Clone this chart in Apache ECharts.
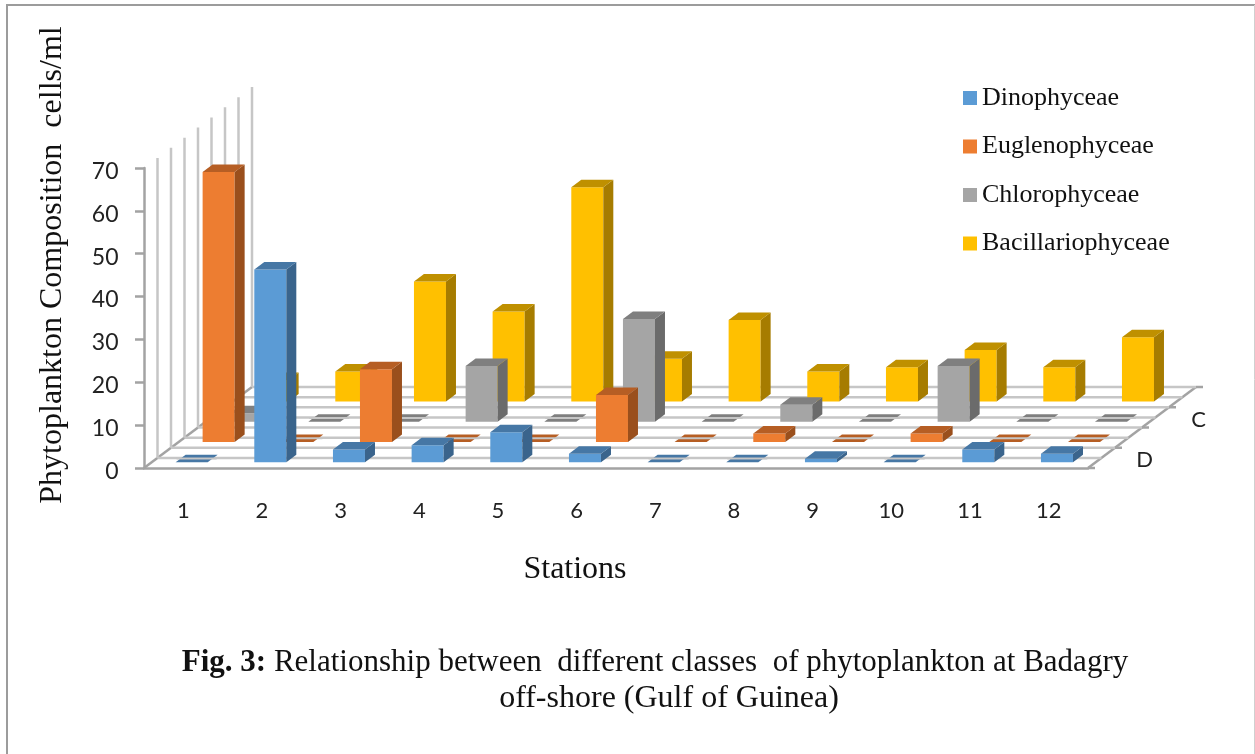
<!DOCTYPE html>
<html>
<head>
<meta charset="utf-8">
<style>html,body{margin:0;padding:0;background:#fff}#c{width:1255px;height:754px}</style>
<script src="https://cdn.jsdelivr.net/npm/echarts@6/dist/echarts.min.js"></script>
</head>
<body>
<div id="c"></div>
<script>
const stations = ['1','2','3','4','5','6','7','8','9','10','11','12'];
const dinophyceae = [0,45,3,4,7,2,0,0,0.8,0,3,2];
const euglenophyceae = [63,0,17,0,0,11,0,2,0,2,0,0];
const chlorophyceae = [2,0,0,13,0,24,0,4,0,13,0,0];
const bacillariophyceae = [5,7,28,21,50,10,19,7,8,12,8,15];
const depthLabels = ['D','','C',''];
const floorLines = [0,1,2,3,4,5,6,7,8];
const valueTop = 70;

const ROW_DX = 27, ROW_DY = -20.25;
const INSET_DX = 8.3, INSET_DY = -5.7;
const BAR_DX = 10, BAR_DY = -7.5;
const GRID = '#c6c6c6', AXIS = '#a3a3a3';

function bar3d(row, front, side, top) {
  return function (params, api) {
    const i = api.value(0), v = api.value(1);
    const base = api.coord([i, 0]);
    const tip = api.coord([i, v]);
    const band = api.size([1, 0])[0];
    const w = band * 0.407;
    const x0 = base[0] - w / 2 + INSET_DX + ROW_DX * row;
    const y0 = base[1] + INSET_DY + ROW_DY * row;
    const h = base[1] - tip[1];
    const yt = y0 - h;
    const x1 = x0 + w;
    const children = [];
    if (h > 0) {
      children.push({type:'rect', shape:{x:x0,y:yt,width:w,height:h}, style:{fill:front}});
      children.push({type:'polygon', shape:{points:[[x1,y0],[x1+BAR_DX,y0+BAR_DY],[x1+BAR_DX,yt+BAR_DY],[x1,yt]]}, style:{fill:side}});
    }
    children.push({type:'polygon', shape:{points:[[x0,yt],[x1,yt],[x1+BAR_DX,yt+BAR_DY],[x0+BAR_DX,yt+BAR_DY]]}, style:{fill:top}});
    if (h === 0) {
      // the floor line shows through a bar of zero height
      const ym = y0 + BAR_DY / 2;
      children.push({type:'line', shape:{x1:x0+1,y1:ym,x2:x1+BAR_DX-1,y2:ym}, style:{stroke:GRID,lineWidth:2}});
    }
    return {type:'group', children};
  };
}

function barSeries(name, values, row, front, side, top) {
  return {
    name, type:'custom', coordinateSystem:'cartesian2d', z: 5 + (3 - row),
    itemStyle:{color:front}, encode:{x:0,y:1},
    data: values.map((v, i) => [i, v]),
    renderItem: bar3d(row, front, side, top), animation:false, silent:true
  };
}

const option = {
  animation:false,
  backgroundColor:'#ffffff',
  textStyle:{fontFamily:'Liberation Serif'},
  grid:{left:144,top:168,width:944,height:300,containLabel:false},
  title:[
    {text:'{b|Fig. 3:} Relationship between  different classes  of phytoplankton at Badagry',
     left:650,top:642,textAlign:'center',
     textStyle:{fontFamily:'Liberation Serif',fontSize:31,fontWeight:'normal',color:'#111',
       rich:{b:{fontFamily:'Liberation Serif',fontSize:31,fontWeight:'bold',color:'#111'}}}},
    {text:'off-shore (Gulf of Guinea)',left:664,top:678,textAlign:'center',
     textStyle:{fontFamily:'Liberation Serif',fontSize:32,fontWeight:'normal',color:'#111'}}
  ],
  legend:{
    data:['Dinophyceae','Euglenophyceae','Chlorophyceae','Bacillariophyceae'],
    orient:'vertical',left:963,top:85,padding:0,itemWidth:14,itemHeight:14,itemGap:22.5,icon:'rect',
    textStyle:{fontFamily:'Liberation Serif',fontSize:26,color:'#111'},
    selectedMode:false
  },
  xAxis:{
    type:'category',data:stations,
    name:'Stations',nameLocation:'middle',nameGap:86,
    nameTextStyle:{fontFamily:'Liberation Serif',fontSize:32,color:'#111',padding:[0,82,0,0]},
    axisLine:{lineStyle:{color:AXIS,width:2.5}},axisTick:{show:false},
    axisLabel:{interval:0,margin:32,fontFamily:'Lato',fontSize:22,color:'#222'},
    splitLine:{show:false}
  },
  yAxis:{
    type:'value',min:0,max:valueTop,interval:10,
    name:'Phytoplankton Composition  cells/ml',nameLocation:'middle',nameGap:75,nameRotate:90,
    nameTextStyle:{fontFamily:'Liberation Serif',fontSize:32,color:'#111',padding:[0,0,0,106]},
    axisLine:{show:true,lineStyle:{color:AXIS,width:2.5}},
    axisTick:{show:true,length:9,lineStyle:{color:AXIS,width:2.5}},
    axisLabel:{margin:25.5,formatter:'{a|{value}}',
      rich:{a:{fontFamily:'Lato',fontSize:23,color:'#222',padding:[7,0,0,0]}}},
    splitLine:{show:false}
  },
  graphic:[
    {type:'polyline',silent:true,z:0,shape:{points:[[7,754],[7,5],[1255,5]]},style:{fill:'none',stroke:'#9c9c9c',lineWidth:2}},
    {type:'line',silent:true,z:0,shape:{x1:1254.5,y1:5,x2:1254.5,y2:754},style:{stroke:'#d0d0d0',lineWidth:1}}
  ],
  series:[
    {
      name:'floor',type:'custom',coordinateSystem:'cartesian2d',z:1,silent:true,
      encode:{x:0,y:1},
      data:floorLines.map(k => [k, 0]),
      renderItem:function (params, api) {
        const k = api.value(0);
        const band = api.size([1, 0])[0];
        const a = api.coord([0, 0]);
        const b = api.coord([stations.length - 1, 0]);
        const t = api.coord([0, valueTop]);
        const xl = a[0] - band / 2, xr = b[0] + band / 2, y0 = a[1];
        const dx = k * ROW_DX / 2, dy = k * ROW_DY / 2;
        const children = [];
        if (k > 0) {
          children.push({type:'line',shape:{x1:xl+dx,y1:y0+dy,x2:xr+dx,y2:y0+dy},style:{stroke:GRID,lineWidth:2.5}});
          children.push({type:'line',shape:{x1:xl+dx,y1:y0+dy,x2:xl+dx,y2:t[1]+dy},style:{stroke:GRID,lineWidth:2.5}});
        } else {
          children.push({type:'line',shape:{x1:xl,y1:y0,x2:xl+4*ROW_DX,y2:y0+4*ROW_DY},style:{stroke:AXIS,lineWidth:2.5}});
          children.push({type:'line',shape:{x1:xr,y1:y0,x2:xr+4*ROW_DX,y2:y0+4*ROW_DY},style:{stroke:AXIS,lineWidth:2.5}});
        }
        if (k % 2 === 0) {
          children.push({type:'line',shape:{x1:xr+dx,y1:y0+dy,x2:xr+dx+7,y2:y0+dy},style:{stroke:AXIS,lineWidth:2.5}});
        }
        return {type:'group',children};
      }
    },
    {
      name:'depth',type:'custom',coordinateSystem:'cartesian2d',z:1,silent:true,
      encode:{x:0,y:1},
      data:depthLabels.map((s, r) => [r, 0, s]),
      renderItem:function (params, api) {
        const r = api.value(0);
        const band = api.size([1, 0])[0];
        const b = api.coord([stations.length - 1, 0]);
        return {type:'text',style:{
          text:depthLabels[r],x:b[0]+band/2+(r+0.5)*ROW_DX+43,y:b[1]+(r+0.5)*ROW_DY+2.5,
          textAlign:'center',textVerticalAlign:'middle',
          font:'22px Lato',fill:'#222'}};
      }
    },
    barSeries('Bacillariophyceae',bacillariophyceae,3,'#FFC000','#A67C00','#BF9000'),
    barSeries('Chlorophyceae',chlorophyceae,2,'#A5A5A5','#6B6B6B','#7F7F7F'),
    barSeries('Euglenophyceae',euglenophyceae,1,'#ED7D31','#9A4F1C','#B65E24'),
    barSeries('Dinophyceae',dinophyceae,0,'#5B9BD5','#3A648C','#4677A5')
  ]
};
echarts.init(document.getElementById('c'),null,{renderer:'canvas'}).setOption(option);
</script>
</body>
</html>
